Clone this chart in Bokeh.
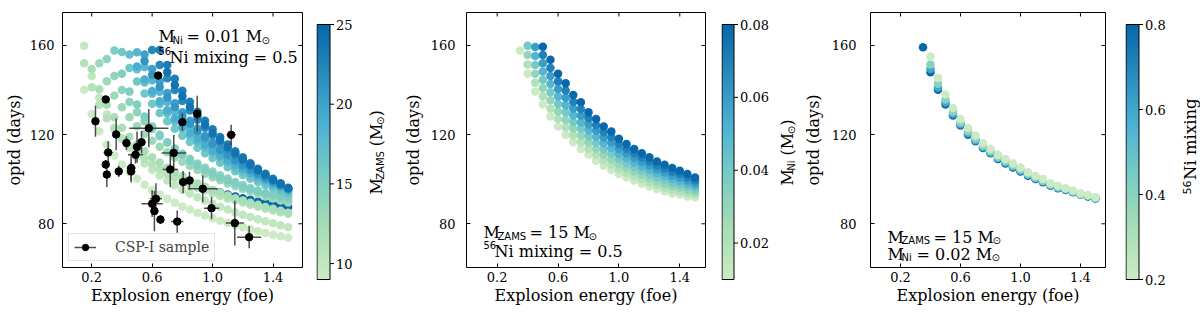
import numpy as np
from bokeh.plotting import figure
from bokeh.layouts import row
from bokeh.models import (ColumnDataSource, LinearColorMapper, FixedTicker,
                          PrintfTickFormatter, Label, Legend, LegendItem, Range1d)
from bokeh.transform import linear_cmap
from bokeh.embed import file_html
from bokeh.resources import INLINE

SERIF = "DejaVu Serif"
SANS = "DejaVu Sans"
N = None

# ---------------- data ----------------
energy_grid = [0.15, 0.20, 0.25, 0.30, 0.35, 0.40, 0.45, 0.50, 0.55, 0.60,
               0.65, 0.70, 0.75, 0.80, 0.85, 0.90, 0.95, 1.00, 1.05, 1.10,
               1.15, 1.20, 1.25, 1.30, 1.35, 1.40, 1.45, 1.50]

# Panel 1 : M_Ni = 0.01, mixing = 0.5 ; one curve per M_ZAMS
optd_m9 = [140.1, 129.3, 121.5, 115.5, 110.6, 106.6, 103.1, 100.2, 97.5, 95.2,
           93.1, 91.2, 89.4, 87.8, 86.4, 85.0, 83.7, 82.5, 81.4, 80.4,
           79.4, 78.4, 77.5, 76.7, 75.9, 75.1, 74.4, 73.7]
optd_m10 = [159.9, 146.3, 136.6, 129.1, 123.1, 118.1, 113.9, 110.2, 107.0, 104.2,
            101.7, 99.4, 97.3, 95.3, 93.6, 91.9, 90.4, 89.0, 87.7, 86.4,
            85.2, 84.1, 83.0, 82.0, 81.1, 80.2, 79.3, 78.5]
optd_m11 = [152.0, 141.3, 133.4, 127.3, 122.5, 118.4, 114.8, 111.8, 109.1, 106.7,
            104.6, 102.6, 100.8, 99.2, 97.7, 96.2, 95.0, 93.7, 92.5, 91.4,
            90.4, 89.5, 88.5, 87.6, 86.8, 86.0, 85.2, 84.5]
optd_m12 = [N, 149.4, 140.4, 133.4, 127.8, 123.1, 119.1, 115.6, 112.6, 109.9,
            107.5, 105.2, 103.2, 101.3, 99.7, 98.1, 96.6, 95.2, 93.9, 92.7,
            91.5, 90.5, 89.4, 88.5, 87.5, 86.7, 85.8, 85.0]
optd_m13 = [N, N, 152.0, 144.0, 137.6, 132.3, 127.8, 123.8, 120.4, 117.3,
            114.6, 112.1, 109.9, 107.8, 105.9, 104.1, 102.4, 100.9, 99.5, 98.1,
            96.8, 95.6, 94.5, 93.4, 92.3, 91.3, 90.4, 89.5]
optd_m14 = [N, N, N, 153.9, 146.3, 140.0, 134.7, 130.0, 126.0, 122.5,
            119.3, 116.4, 113.8, 111.4, 109.2, 107.1, 105.2, 103.5, 101.8, 100.3,
            98.8, 97.4, 96.1, 94.9, 93.7, 92.6, 91.5, 90.5]
optd_m15 = [N, N, N, N, 157.8, 147.3, 139.3, 133.5, 128.1, 123.6,
            120.0, 116.6, 113.6, 111.0, 108.3, 106.1, 104.1, 102.3, 100.8, 99.4,
            98.1, 96.7, 95.6, 94.5, 93.6, 93.1, 92.3, 91.9]
optd_m16 = [N, N, N, N, N, 157.1, 149.9, 143.8, 138.5, 133.9,
            129.7, 126.0, 122.6, 119.5, 116.7, 114.1, 111.7, 109.5, 107.4, 105.4,
            103.6, 101.9, 100.2, 98.7, 97.3, 95.9, 94.6, 93.3]
optd_m17 = [N, N, N, N, N, N, 156.0, 149.3, 143.4, 138.3,
            133.7, 129.6, 125.9, 122.6, 119.5, 116.7, 114.1, 111.6, 109.4, 107.3,
            105.3, 103.4, 101.7, 100.0, 98.5, 97.0, 95.5, 94.2]
optd_m18 = [N, N, N, N, N, N, N, 157.0, 150.3, 144.4,
            139.2, 134.6, 130.4, 126.6, 123.2, 120.0, 117.1, 114.3, 111.8, 109.5,
            107.3, 105.2, 103.3, 101.4, 99.7, 98.0, 96.5, 95.0]
optd_m19 = [N, N, N, N, N, N, N, 150.6, 144.7, 139.6,
            135.0, 130.9, 127.2, 123.8, 120.7, 117.9, 115.3, 112.8, 110.6, 108.4,
            106.5, 104.6, 102.8, 101.2, 99.6, 98.1, 96.7, 95.3]
optd_m20 = [N, N, N, N, N, N, N, N, 156.0, 149.5,
            143.8, 138.7, 134.1, 130.0, 126.2, 122.7, 119.5, 116.6, 113.9, 111.3,
            108.9, 106.7, 104.6, 102.6, 100.7, 99.0, 97.3, 95.7]
optd_m21 = [N, N, N, N, N, N, N, N, 153.0, 146.9,
            141.5, 136.7, 132.4, 128.5, 124.9, 121.6, 118.6, 115.8, 113.2, 110.7,
            108.4, 106.3, 104.3, 102.4, 100.6, 98.9, 97.3, 95.8]
optd_m22 = [N, N, N, N, N, N, N, N, N, 158.0,
            151.3, 145.3, 140.0, 135.1, 130.8, 126.7, 123.1, 119.7, 116.6, 113.6,
            110.9, 108.4, 106.0, 103.8, 101.7, 99.7, 97.8, 96.0]
optd_m23 = [N, N, N, N, N, N, N, N, N, N,
            158.0, 151.2, 145.1, 139.7, 134.8, 130.3, 126.2, 122.4, 118.9, 115.6,
            112.6, 109.8, 107.2, 104.7, 102.4, 100.2, 98.2, 96.2]
optd_m24 = [N, N, N, N, N, N, N, N, N, N,
            N, 148.0, 142.3, 137.2, 132.5, 128.3, 124.4, 120.9, 117.6, 114.5,
            111.6, 109.0, 106.5, 104.1, 101.9, 99.8, 97.9, 96.0]
optd_m25 = [N, N, N, N, N, N, N, N, N, N,
            N, N, N, N, N, 96.9, 95.9, 94.9, 94.0, 93.1,
            92.3, 91.5, 90.8, 90.0, 89.4, 88.7, 88.1, 87.5]
p1_mass_order = [25, 9, 10, 11, 12, 13, 14, 15, 16, 17, 18, 19, 20, 21, 22, 23, 24]
p1_curves = {9: optd_m9, 10: optd_m10, 11: optd_m11, 12: optd_m12, 13: optd_m13,
             14: optd_m14, 15: optd_m15, 16: optd_m16, 17: optd_m17, 18: optd_m18,
             19: optd_m19, 20: optd_m20, 21: optd_m21, 22: optd_m22, 23: optd_m23,
             24: optd_m24, 25: optd_m25}

# CSP-I sample
csp_energy = [0.225, 0.293, 0.309, 0.293, 0.300, 0.362, 0.379, 0.430, 0.461, 0.461,
              0.490, 0.500, 0.530, 0.578, 0.640, 0.600, 0.625, 0.615, 0.655, 0.720,
              0.743, 0.766, 0.800, 0.805, 0.847, 0.898, 0.935, 0.993, 1.123, 1.147, 1.242]
csp_energy_err = [0.01, 0.01, 0.03, 0.01, 0.01, 0.01, 0.015, 0.02, 0.03, 0.01,
                  0.05, 0.02, 0.01, 0.13, 0.01, 0.07, 0.04, 0.02, 0.01, 0.05,
                  0.08, 0.04, 0.02, 0.02, 0.03, 0.02, 0.10, 0.05, 0.03, 0.06, 0.08]
csp_optd = [126.0, 135.8, 112.0, 106.6, 102.1, 120.1, 103.5, 116.2, 105.0, 103.5,
            111.0, 114.4, 116.6, 122.9, 146.5, 89.0, 91.2, 85.7, 81.9, 104.4,
            111.8, 81.0, 125.6, 98.7, 99.4, 129.4, 95.7, 87.0, 119.9, 80.3, 74.0]
csp_optd_err = [7, 1, 5, 2, 5.6, 7.1, 2.5, 3, 6.5, 4,
                4, 7, 5, 8.6, 1.5, 6, 7, 9, 2, 8,
                8, 5, 4, 5, 4, 8, 6, 5, 4.5, 10, 5]

# Panels 2 and 3 share this energy grid
energy_p23 = [0.35, 0.40, 0.45, 0.50, 0.55, 0.60, 0.65, 0.70, 0.75, 0.80,
              0.85, 0.90, 0.95, 1.00, 1.05, 1.10, 1.15, 1.20, 1.25, 1.30,
              1.35, 1.40, 1.45, 1.50]

# Panel 2 : M_ZAMS = 15, mixing = 0.5 ; one row per M_Ni
ni_levels = [0.01, 0.02, 0.03, 0.04, 0.05, 0.06, 0.07, 0.08]
optd_ni = [
    [157.8, 147.3, 139.3, 133.5, 128.1, 123.6, 120.0, 116.6, 113.6, 111.0, 108.3, 106.1, 104.1, 102.3, 100.8, 99.4, 98.1, 96.7, 95.6, 94.5, 93.6, 93.1, 92.3, 91.9],
    [N, 151.5, 143.3, 137.2, 131.7, 127.0, 123.3, 119.6, 116.6, 113.7, 111.0, 108.6, 106.6, 104.6, 102.9, 101.4, 100.0, 98.6, 97.4, 96.2, 95.2, 94.6, 93.7, 93.2],
    [N, 155.7, 147.3, 140.9, 135.4, 130.4, 126.6, 122.7, 119.6, 116.4, 113.6, 111.1, 109.0, 106.8, 105.1, 103.5, 102.0, 100.4, 99.1, 97.9, 96.9, 96.2, 95.2, 94.4],
    [N, 159.9, 151.3, 144.6, 139.0, 133.8, 129.9, 125.7, 122.6, 119.1, 116.3, 113.6, 111.5, 109.1, 107.2, 105.5, 103.9, 102.3, 100.9, 99.6, 98.5, 97.7, 96.6, 95.7],
    [N, N, 155.3, 148.3, 142.7, 137.1, 133.2, 128.7, 125.5, 121.9, 119.0, 116.1, 114.0, 111.3, 109.4, 107.5, 105.8, 104.2, 102.7, 101.4, 100.1, 99.2, 98.0, 97.0],
    [N, N, 159.3, 152.0, 146.3, 140.5, 136.5, 131.7, 128.5, 124.6, 121.7, 118.6, 116.5, 113.6, 111.5, 109.5, 107.7, 106.1, 104.5, 103.1, 101.7, 100.7, 99.4, 98.3],
    [N, N, N, 155.7, 149.9, 143.9, 139.8, 134.8, 131.5, 127.3, 124.3, 121.1, 118.9, 115.8, 113.7, 111.6, 109.7, 107.9, 106.2, 104.8, 103.4, 102.3, 100.9, 99.5],
    [N, N, N, 159.4, 153.6, 147.3, 143.1, 137.8, 134.5, 130.0, 127.0, 123.6, 121.4, 118.1, 115.8, 113.6, 111.6, 109.8, 108.0, 106.5, 105.0, 103.8, 102.3, 100.8],
]

# Panel 3 : M_ZAMS = 15, M_Ni = 0.02 ; one row per 56Ni mixing
mix_levels = [0.8, 0.6, 0.4, 0.2]
optd_mix = [
    [159.2, 148.0, 140.1, 133.5, 128.6, 124.1, 120.0, 117.0, 114.0, 111.6, 109.1, 107.1, 105.3, 103.5, 101.6, 100.1, 98.6, 97.1, 96.0, 95.2, 94.1, 93.1, 92.3, 91.4],
    [N, 149.4, 141.2, 134.4, 129.3, 124.7, 120.6, 117.5, 114.4, 112.0, 109.5, 107.5, 105.7, 103.9, 102.0, 100.4, 99.0, 97.3, 96.2, 95.4, 94.3, 93.2, 92.4, 91.5],
    [N, 151.5, 142.8, 135.8, 130.3, 125.5, 121.5, 118.3, 115.0, 112.6, 110.0, 108.1, 106.2, 104.4, 102.3, 100.8, 99.3, 97.6, 96.5, 95.6, 94.5, 93.4, 92.6, 91.7],
    [N, 155.1, 145.5, 138.0, 132.0, 127.0, 123.0, 119.6, 116.1, 113.6, 111.0, 109.1, 107.1, 105.3, 103.1, 101.6, 100.1, 98.1, 97.1, 96.0, 94.9, 93.6, 92.9, 91.9],
]

x_ticks = [0.2, 0.6, 1.0, 1.4]
y_ticks = [80, 120, 160]
cb1_ticks = [10, 15, 20, 25]
cb2_ticks = [0.02, 0.04, 0.06, 0.08]
cb3_ticks = [0.2, 0.4, 0.6, 0.8]

# ---------------- colours ----------------
anchors = ["#ccebc5", "#a8ddb5", "#7bccc4", "#4eb3d3", "#2b8cbe", "#0868ac"]


def build_palette(hexes, n=256):
    rgb = np.array([[int(h[i:i + 2], 16) for i in (1, 3, 5)] for h in hexes], float)
    pos = np.linspace(0, 1, len(hexes))
    out = []
    for tt in np.linspace(0, 1, n):
        c = [np.interp(tt, pos, rgb[:, k]) for k in range(3)]
        out.append("#%02x%02x%02x" % tuple(int(round(v)) for v in c))
    return out


PAL = build_palette(anchors)

# ---------------- geometry (page pixels) ----------------
TOP, FH, BOTTOM = 12, 255, 44
TOTAL_H = TOP + FH + BOTTOM
YR = (60.39, 174.80)


def panel_geom(fl, fw, xr):
    return dict(fl=fl, fw=fw, xr=xr, yr=YR, ft=TOP, fh=FH)


def cbar_geom(fl, fw, low, high, bar):
    k = (high - low) / FH
    return dict(fl=fl, fw=fw, xr=(-0.5, fw - 0.5),
                yr=(low - BOTTOM * k, high + TOP * k), ft=0, fh=TOTAL_H,
                bar=bar, low=low, high=high)


G1 = panel_geom(62, 240, (0.0068, 1.595))
G2 = panel_geom(466, 239, (-0.0017, 1.569))
G3 = panel_geom(870, 235, (0.0, 1.567))
GC1 = cbar_geom(316, 84, 9, 25, 13)
GC2 = cbar_geom(721, 79, 0.01, 0.08, 12)
GC3 = cbar_geom(1125, 75, 0.2, 0.8, 13)


def to_data(g, px, py):
    x0, x1 = g["xr"]
    y0, y1 = g["yr"]
    x = x0 + (px - g["fl"]) / g["fw"] * (x1 - x0)
    y = y1 - (py - g["ft"]) / g["fh"] * (y1 - y0)
    return x, y


def add_text(p, g, px, py, text, size, font=SERIF, angle=0.0, baseline="alphabetic"):
    x, y = to_data(g, px, py)
    p.add_layout(Label(x=x, y=y, text=text, text_font=font,
                       text_font_size="%gpx" % size, text_color="black",
                       text_align="left", text_baseline=baseline,
                       angle=angle))


def make_panel(g, left, right, ytick_standoff, ylabel_standoff):
    p = figure(frame_width=g["fw"], frame_height=FH,
               x_range=Range1d(*g["xr"]), y_range=Range1d(*g["yr"]),
               toolbar_location=None, output_backend="svg",
               min_border_left=left, min_border_right=right,
               min_border_top=TOP, min_border_bottom=BOTTOM)
    p.grid.visible = False
    p.outline_line_color = "black"
    p.outline_line_width = 1
    p.outline_line_alpha = 1
    p.xaxis.ticker = FixedTicker(ticks=x_ticks)
    p.yaxis.ticker = FixedTicker(ticks=y_ticks)
    p.xaxis.formatter = PrintfTickFormatter(format="%.1f")
    p.yaxis.formatter = PrintfTickFormatter(format="%d")
    p.xaxis.axis_label = "Explosion energy (foe)"
    p.yaxis.axis_label = "optd (days)"
    for ax in [p.xaxis[0], p.yaxis[0]]:
        ax.axis_line_color = None
        ax.major_tick_in = 4
        ax.major_tick_out = 0
        ax.major_tick_line_color = "black"
        ax.minor_tick_line_color = None
        ax.major_label_text_font = SERIF
        ax.major_label_text_font_size = "13px"
        ax.major_label_text_color = "black"
        ax.axis_label_text_font = SERIF
        ax.axis_label_text_font_size = "16px"
        ax.axis_label_text_font_style = "normal"
        ax.axis_label_text_color = "black"
    p.xaxis.major_label_standoff = 4
    p.xaxis.axis_label_standoff = 1
    p.yaxis.major_label_standoff = ytick_standoff
    p.yaxis.axis_label_standoff = ylabel_standoff
    # inward ticks on the top and right edges of the frame
    x0, x1 = g["xr"]
    y0, y1 = g["yr"]
    dy = 4 * (y1 - y0) / FH
    dx = 4 * (x1 - x0) / g["fw"]
    p.segment(x0=x_ticks, y0=[y1 - dy] * len(x_ticks), x1=x_ticks, y1=[y1] * len(x_ticks),
              line_color="black", line_width=1)
    p.segment(x0=[x1 - dx] * len(y_ticks), y0=y_ticks, x1=[x1] * len(y_ticks), y1=y_ticks,
              line_color="black", line_width=1)
    return p


def make_cbar(g, ticks, fmt):
    low, high = g["low"], g["high"]
    c = figure(frame_width=g["fw"], frame_height=TOTAL_H,
               x_range=Range1d(*g["xr"]), y_range=Range1d(*g["yr"]),
               toolbar_location=None, output_backend="svg",
               x_axis_location=None, y_axis_location=None,
               min_border_left=0, min_border_right=0,
               min_border_top=0, min_border_bottom=0)
    c.grid.visible = False
    c.outline_line_color = None
    bw = g["bar"]
    mapper = LinearColorMapper(palette=PAL, low=low, high=high)
    grad = np.linspace(low, high, 256).reshape(256, 1)
    c.image(image=[grad], x=0, y=low, dw=bw, dh=high - low, color_mapper=mapper)
    c.quad(left=0, right=bw, bottom=low, top=high, fill_color=None,
           line_color="black", line_width=1)
    c.segment(x0=[bw] * len(ticks), y0=ticks, x1=[bw + 4] * len(ticks), y1=ticks,
              line_color="black", line_width=1)
    for t in ticks:
        c.add_layout(Label(x=bw + 6, y=t, text=fmt % t, text_font=SERIF,
                           text_font_size="13px", text_color="black",
                           text_align="left", text_baseline="middle"))
    return c


def vertical_title(c, g, cx, start_y, parts):
    """parts: (text, size, font, x shift, advance) drawn upward from start_y"""
    y = start_y
    for text, size, font, shift, adv in parts:
        add_text(c, g, cx + shift, y, text, size, font, np.pi / 2, "middle")
        y -= adv


DOT = 8.5

# ---------------- panel 1 ----------------
p1 = make_panel(G1, 62, 14, 8, 3)
e1, v1, m1 = [], [], []
for m in p1_mass_order:
    for e, v in zip(energy_grid, p1_curves[m]):
        if v is not None:
            e1.append(e); v1.append(v); m1.append(m)
src1 = ColumnDataSource(dict(energy=e1, optd=v1, mass=m1))
p1.scatter("energy", "optd", source=src1, size=DOT, line_color=None,
           fill_color=linear_cmap("mass", PAL, 9, 25))

ce = np.array(csp_energy); cee = np.array(csp_energy_err)
cv = np.array(csp_optd); cve = np.array(csp_optd_err)
src_err = ColumnDataSource(dict(x=ce, y=cv, xl=ce - cee, xh=ce + cee,
                                yl=cv - cve, yh=cv + cve))
r_h = p1.segment("xl", "y", "xh", "y", source=src_err, line_color="#3a3a3a",
                 line_width=1.5, line_alpha=0.9)
r_v = p1.segment("x", "yl", "x", "yh", source=src_err, line_color="#3a3a3a",
                 line_width=1.5, line_alpha=0.9)
r_d = p1.scatter("x", "y", source=src_err, size=7.5, fill_color="black",
                 line_color="black")
leg = Legend(items=[LegendItem(label="CSP-I sample", renderers=[r_h, r_d])],
             location=(6, 6), label_text_font=SERIF, label_text_font_size="14px",
             glyph_width=22, glyph_height=16, label_standoff=19, padding=5,
             spacing=0, margin=0, border_line_color="#cccccc",
             background_fill_alpha=0.8, label_height=16)
p1.add_layout(leg)

add_text(p1, G1, 158, 36, "M", 16)
add_text(p1, G1, 172, 39.5, "Ni", 10, SANS)
add_text(p1, G1, 186, 36, "= 0.01 M", 16)
add_text(p1, G1, 261, 39.5, "\u2299", 10, SANS)
add_text(p1, G1, 158, 50.5, "56", 10, SANS)
add_text(p1, G1, 169, 57, "Ni mixing = 0.5", 16)

c1 = make_cbar(GC1, cb1_ticks, "%d")
vertical_title(c1, GC1, 376, 182, [("M", 16, SERIF, 0, 14.7),
                                    ("ZAMS", 10, SANS, 4, 33.5),
                                    ("(M", 16, SERIF, 0, 21.2),
                                    ("\u2299", 10, SANS, 4, 8.5),
                                    (")", 16, SERIF, 0, 6)])

# ---------------- panel 2 ----------------
p2 = make_panel(G2, 66, 16, 11, 5)
e2, v2, n2 = [], [], []
for lvl, vals in zip(ni_levels, optd_ni):
    for e, v in zip(energy_p23, vals):
        if v is not None:
            e2.append(e); v2.append(v); n2.append(lvl)
src2 = ColumnDataSource(dict(energy=e2, optd=v2, ni=n2))
p2.scatter("energy", "optd", source=src2, size=DOT, line_color=None,
           fill_color=linear_cmap("ni", PAL, 0.01, 0.08))
add_text(p2, G2, 483, 232, "M", 16)
add_text(p2, G2, 497, 235.5, "ZAMS", 10, SANS)
add_text(p2, G2, 529, 232, "= 15 M", 16)
add_text(p2, G2, 588, 235.5, "\u2299", 10, SANS)
add_text(p2, G2, 483, 244.5, "56", 10, SANS)
add_text(p2, G2, 494, 251, "Ni mixing = 0.5", 16)

c2 = make_cbar(GC2, cb2_ticks, "%.2f")
vertical_title(c2, GC2, 787, 173, [("M", 16, SERIF, 0, 14.7),
                                    ("Ni", 10, SANS, 4, 15.3),
                                    ("(M", 16, SERIF, 0, 21.2),
                                    ("\u2299", 10, SANS, 4, 8.5),
                                    (")", 16, SERIF, 0, 6)])

# ---------------- panel 3 ----------------
p3 = make_panel(G3, 70, 20, 14, 6)
e3, v3, x3 = [], [], []
for lvl, vals in zip(mix_levels, optd_mix):
    for e, v in zip(energy_p23, vals):
        if v is not None:
            e3.append(e); v3.append(v); x3.append(lvl)
src3 = ColumnDataSource(dict(energy=e3, optd=v3, mix=x3))
p3.scatter("energy", "optd", source=src3, size=DOT, line_color=None,
           fill_color=linear_cmap("mix", PAL, 0.2, 0.8))
add_text(p3, G3, 887, 236.5, "M", 16)
add_text(p3, G3, 901, 240, "ZAMS", 10, SANS)
add_text(p3, G3, 933, 236.5, "= 15 M", 16)
add_text(p3, G3, 992, 240, "\u2299", 10, SANS)
add_text(p3, G3, 887, 253.5, "M", 16)
add_text(p3, G3, 901, 257, "Ni", 10, SANS)
add_text(p3, G3, 916, 253.5, "= 0.02 M", 16)
add_text(p3, G3, 991, 257, "\u2299", 10, SANS)

c3 = make_cbar(GC3, cb3_ticks, "%.1f")
vertical_title(c3, GC3, 1190, 182, [("56", 11, SANS, -4, 14.5),
                                     ("Ni mixing", 16.5, SERIF, 0, 80)])

layout = row(p1, c1, p2, c2, p3, c3)
open("out.html", "w").write(file_html(layout, INLINE))
